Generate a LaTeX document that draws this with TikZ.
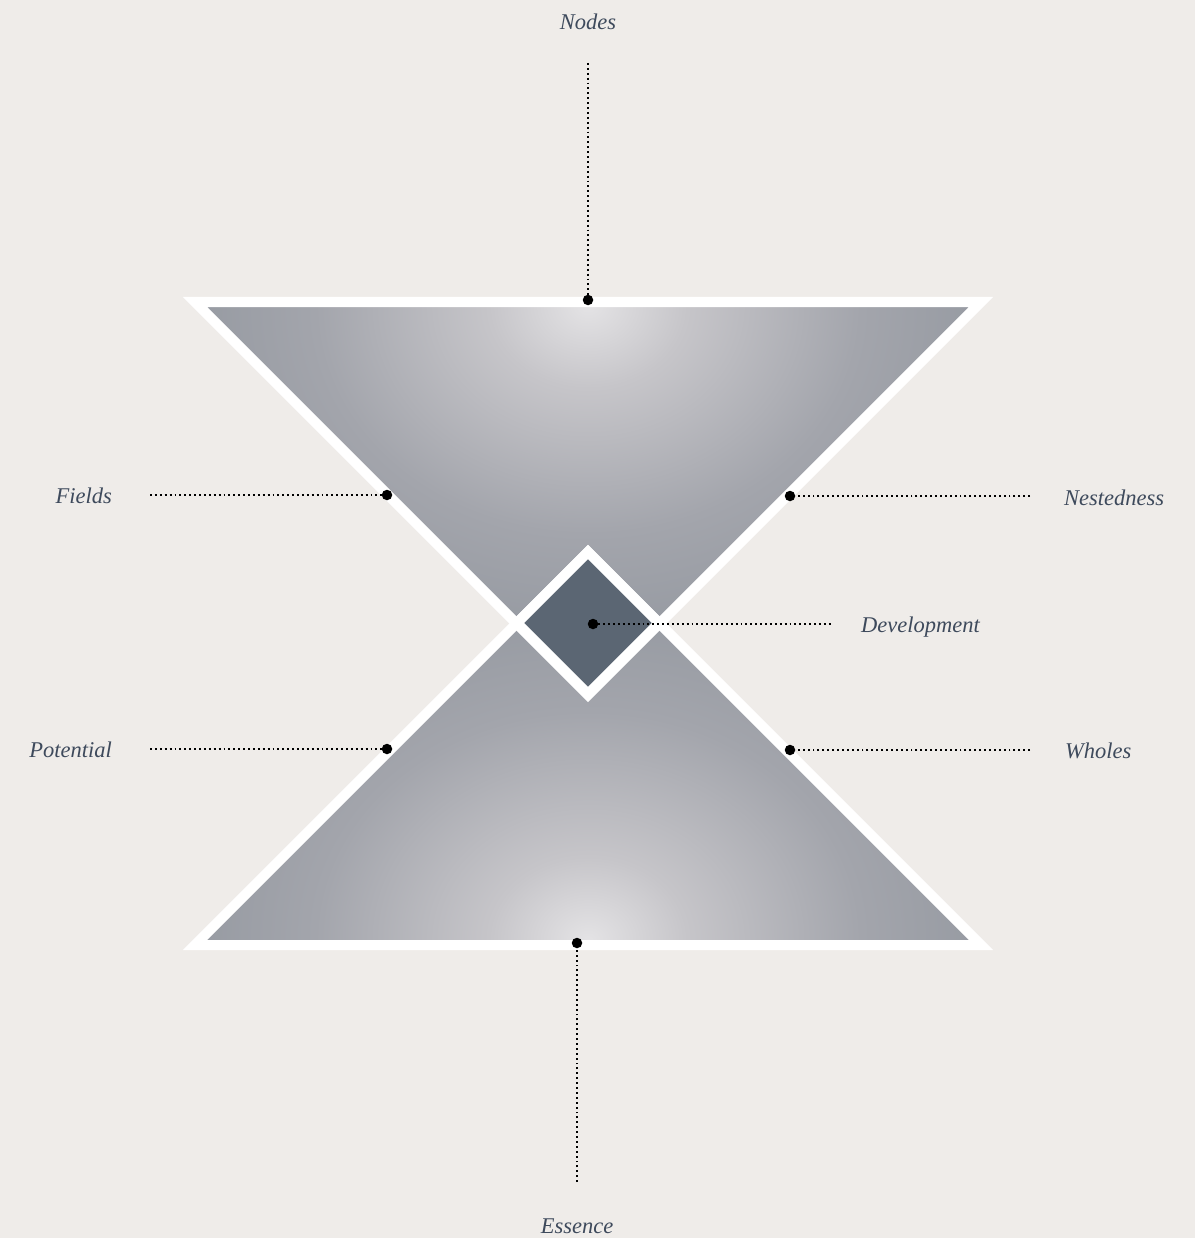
\documentclass[tikz,border=0pt]{standalone}
\usepackage{fontspec}
\setmainfont{Liberation Serif}
\definecolor{bg}{HTML}{EFECE9}
\definecolor{txt}{HTML}{3E4A5C}
\definecolor{cl}{HTML}{E4E3E5}
\definecolor{cm}{HTML}{C6C5C9}
\definecolor{cn}{HTML}{A3A5AC}
\definecolor{cd}{HTML}{8A9098}
\definecolor{ce}{HTML}{858B94}
\definecolor{dia}{HTML}{5B6673}
\pgfdeclareradialshading{glow}{\pgfpoint{0bp}{0bp}}{color(0bp)=(cl); color(4bp)=(cm); color(11bp)=(cn); color(21bp)=(cd); color(35bp)=(ce); color(50bp)=(ce)}
\tikzset{
  lbl/.style={font=\fontsize{22.5}{26}\selectfont\itshape, text=txt, inner sep=0pt},
  pin/.style={circle, fill=black, inner sep=0pt, minimum size=10.5pt},
  leader/.style={line width=1.9pt, dash pattern=on 1.9pt off 3pt, black},
  rim/.style={draw=white, line width=10pt, line join=miter, miter limit=10},
}
\begin{document}
\begin{tikzpicture}[x=1pt, y=-1pt]
\fill[bg] (0,0) rectangle (1195,1238);
\useasboundingbox (0,0) rectangle (1195,1238);
% upper triangle
\begin{scope}
  \clip (195,302) -- (981,302) -- (588,695) -- cycle;
  \fill[ce] (195,302) -- (981,302) -- (588,695) -- cycle;
  \shade[shading=glow] (588,305) ellipse (620pt and 520pt);
\end{scope}
% lower triangle
\begin{scope}
  \clip (195,945) -- (981,945) -- (588,552) -- cycle;
  \fill[ce] (195,945) -- (981,945) -- (588,552) -- cycle;
  \shade[shading=glow] (588,940) ellipse (620pt and 520pt);
\end{scope}
\draw[rim] (195,302) -- (981,302) -- (588,695) -- cycle;
\draw[rim] (195,945) -- (981,945) -- (588,552) -- cycle;
% diamond
\draw[rim, fill=dia] (588,552) -- (659,623) -- (588,694) -- (517,623) -- cycle;

% pins
\node[pin] (pN) at (588,300) {};
\node[pin] (pE) at (577,943) {};
\node[pin] (pF) at (387,495) {};
\node[pin] (pS) at (790,496) {};
\node[pin] (pP) at (387,749) {};
\node[pin] (pW) at (790,750) {};
\node[pin] (pD) at (593,624) {};

% leader ends
\coordinate (cN) at (588,63);
\coordinate (cE) at (577,1182);
\coordinate (cF) at (150,495);
\coordinate (cS) at (1030,496);
\coordinate (cP) at (150,749);
\coordinate (cW) at (1030,750);
\coordinate (cD) at (832,624);

\draw[leader] (cN) -- (pN);
\draw[leader] (cE) -- (pE);
\draw[leader] (cF) -- (pF);
\draw[leader] (cS) -- (pS);
\draw[leader] (cP) -- (pP);
\draw[leader] (cW) -- (pW);
\draw[leader] (pD) -- (cD);

% labels
\node[lbl] (lN) at (588,22) {Nodes};
\node[lbl] (lE) at (577,1226) {Essence};
\node[lbl, anchor=east] (lF) at (112,496) {Fields};
\node[lbl, anchor=west] (lS) at (1064,498) {Nestedness};
\node[lbl, anchor=east] (lP) at (112,750) {Potential};
\node[lbl, anchor=west] (lW) at (1065,751) {Wholes};
\node[lbl, anchor=west] (lD) at (861,627) {Development};
\end{tikzpicture}
\end{document}
